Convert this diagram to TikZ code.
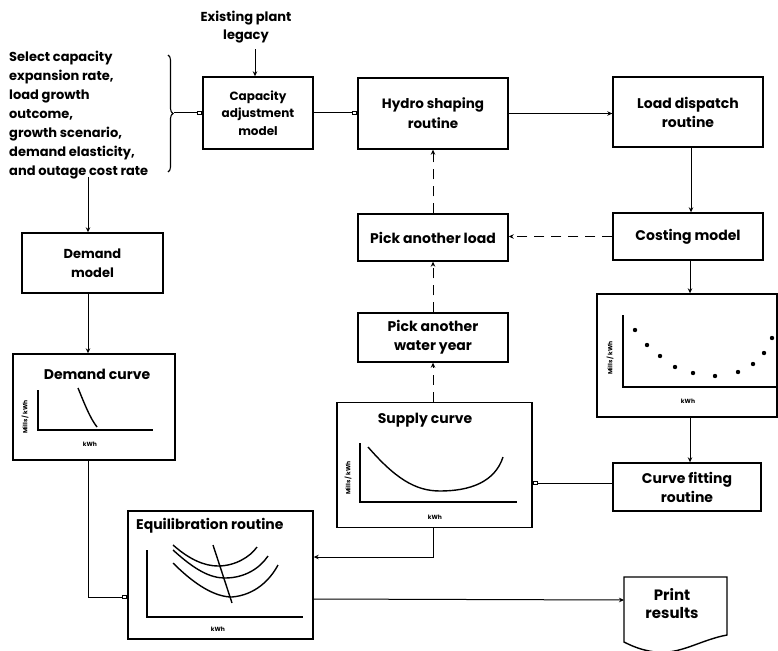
\documentclass[tikz,border=0pt]{standalone}
\usepackage{fontspec}
\setmainfont{Poppins}
\usetikzlibrary{arrows.meta,decorations.pathreplacing,calc}
\begin{document}
\begin{tikzpicture}[x=1pt,y=-1pt,
  box/.style={draw,line width=1.4pt,align=center,inner sep=0pt,font=\fontsize{14}{19}\bfseries\selectfont},
  plotbox/.style={draw,line width=1.4pt,inner sep=0pt},
  conn/.style={line width=1pt},
  ftip/.style={conn,-{Stealth[length=5pt,width=4.5pt]}},
  otip/.style={conn,-{Rectangle[open,length=5pt,width=4pt]}},
  dconn/.style={ftip,dash pattern=on 10pt off 7pt},
  axis/.style={line width=1.1pt},
  crv/.style={line width=1.4pt},
  ttl/.style={font=\fontsize{14}{16}\bfseries\selectfont,inner sep=0pt},
  small/.style={font=\fontsize{6}{7}\bfseries\selectfont,inner sep=0pt},
  note/.style={align=left,inner sep=0pt,font=\fontsize{13}{19}\bfseries\selectfont}
]
\useasboundingbox (0,0) rectangle (778,650);

% top inputs
\node[align=center,inner sep=0pt,font=\fontsize{13}{18}\bfseries\selectfont] (ex) at (246,27) {Existing plant\\legacy};
\node[note,anchor=west] (nt) at (9,115) {Select capacity\\expansion rate,\\load growth\\outcome,\\growth scenario,\\demand elasticity,\\and outage cost rate};
\draw[line width=1.1pt,decorate,decoration={brace,amplitude=5pt}] (168,55) -- (168,172);
\coordinate (brtip) at (174,113);
\coordinate (nb) at (88,177);

% boxes
\node[box,minimum width=110pt,minimum height=72pt,font=\fontsize{12}{17.5}\bfseries\selectfont] (cap) at (258,113) {Capacity\\adjustment\\model};
\node[box,minimum width=150pt,minimum height=71pt,font=\fontsize{13.5}{20}\bfseries\selectfont] (hyd) at (433,113.5) {Hydro shaping\\routine};
\node[box,minimum width=150pt,minimum height=70pt] (ld) at (688,112) {Load dispatch\\routine};
\node[box,minimum width=150pt,minimum height=47pt] (cost) at (688,236.5) {Costing model};
\node[box,minimum width=150pt,minimum height=47pt] (pl) at (433,237.5) {Pick another load};
\node[box,minimum width=150pt,minimum height=49pt] (wy) at (433,337.5) {Pick another\\water year};
\node[box,minimum width=141pt,minimum height=60pt,font=\fontsize{13}{19}\bfseries\selectfont] (dm) at (92.5,263) {Demand\\model};
\node[box,minimum width=148pt,minimum height=48pt] (cf) at (687,487) {Curve fitting\\routine};

% plot boxes
\node[plotbox,minimum width=162pt,minimum height=106pt] (dc) at (94,407) {};
\node[plotbox,minimum width=195pt,minimum height=125pt] (sc) at (434.5,465) {};
\node[plotbox,minimum width=180pt,minimum height=123pt] (cp) at (687,355.5) {};
\node[plotbox,minimum width=185pt,minimum height=128pt] (eq) at (220.5,575) {};

% demand curve plot
\node[ttl] (dct) at (97,374) {Demand curve};
\draw[axis] (38,390) -- (38,430) -- (153,430);
\draw[crv] (78,388) .. controls (85,405) and (90,418) .. (97,427);
\node[small,rotate=90] (dcy) at (25,417) {Mills / kWh};
\node[small] (dcx) at (90,444) {kWh};

% supply curve plot
\node[ttl] (sct) at (425,420) {Supply curve};
\draw[axis] (360,443) -- (360,502) -- (517,502);
\draw[crv] (368,447) .. controls (395,478) and (415,491) .. (440,491) .. controls (470,491) and (495,482) .. (503,457);
\node[small,rotate=90] (scy) at (348,478) {Mills / kWh};
\node[small] (scx) at (435,517) {kWh};

% costing plot
\draw[axis] (623,315) -- (623,387) -- (777,387);
\foreach \px/\py in {635/330,647/345,660/356,675/367,693/373,715/376,738/372,753/364,764/353,772/338}
  \fill (\px,\py) circle (2.2pt);
\node[small,rotate=90] (cpy) at (610,358) {Mills / kWh};
\node[small] (cpx) at (688,401) {kWh};

% equilibration plot
\node[ttl,anchor=west] (eqt) at (136,526) {Equilibration routine};
\draw[axis] (147,550) -- (147,617) -- (303,617);
\draw[crv] (173,545) .. controls (190,560) and (205,566) .. (218,566) .. controls (235,566) and (250,557) .. (257,547);
\draw[crv] (173,550) .. controls (195,570) and (210,578) .. (225,578) .. controls (245,578) and (260,568) .. (268,556);
\draw[crv] (173,563) .. controls (195,585) and (215,597) .. (232,597) .. controls (255,595) and (270,580) .. (278,565);
\draw[crv] (213,545) -- (232,603);
\node[small] (eqx) at (218,629) {kWh};

% print results
\node[align=center,inner sep=0pt,font=\fontsize{15}{18}\bfseries\selectfont] (pr) at (672,604) {Print\\results};
\draw[line width=1.4pt] (624,577) -- (727,577) -- (727,635) .. controls (700,640) and (680,655) .. (655,652) .. controls (640,650) and (630,645) .. (624,642) -- cycle;
\coordinate (prw) at (624,600);

% connectors
\draw[ftip] (ex.south -| 255,0) ++(0,6) -- (cap.north -| 255,0);
\draw[otip] (brtip) -- (cap.west |- brtip);
\draw[ftip] (nb) -- (nb |- dm.north);
\draw[ftip] (nb |- dm.south) -- (nb |- dc.north);
\draw[otip] (nb |- dc.south) |- ($(eq.west)+(0,22)$);
\draw[otip] (cap.east) -- (hyd.west |- cap.east);
\draw[ftip] (hyd.east) -- (ld.west |- hyd.east);
\draw[ftip] (691,0 |- ld.south) -- (691,0 |- cost.north);
\draw[dconn] (cost.west) -- (pl.east |- cost.west);
\draw[dconn] (pl.north) -- (hyd.south);
\draw[dconn] (wy.north) -- (pl.south);
\draw[dconn] (sc.north -| wy.south) -- (wy.south);
\draw[ftip] (690,0 |- cost.south) -- (690,0 |- cp.north);
\draw[ftip] (690,0 |- cp.south) -- (690,0 |- cf.north);
\draw[otip] (cf.west |- 0,483) -- (sc.east |- 0,483);
\draw[ftip] (sc.south -| wy.south) |- ($(eq.east)+(0,-18)$);
\draw[ftip] ($(eq.east)+(0,24)$) -- (prw);
\end{tikzpicture}
\end{document}
